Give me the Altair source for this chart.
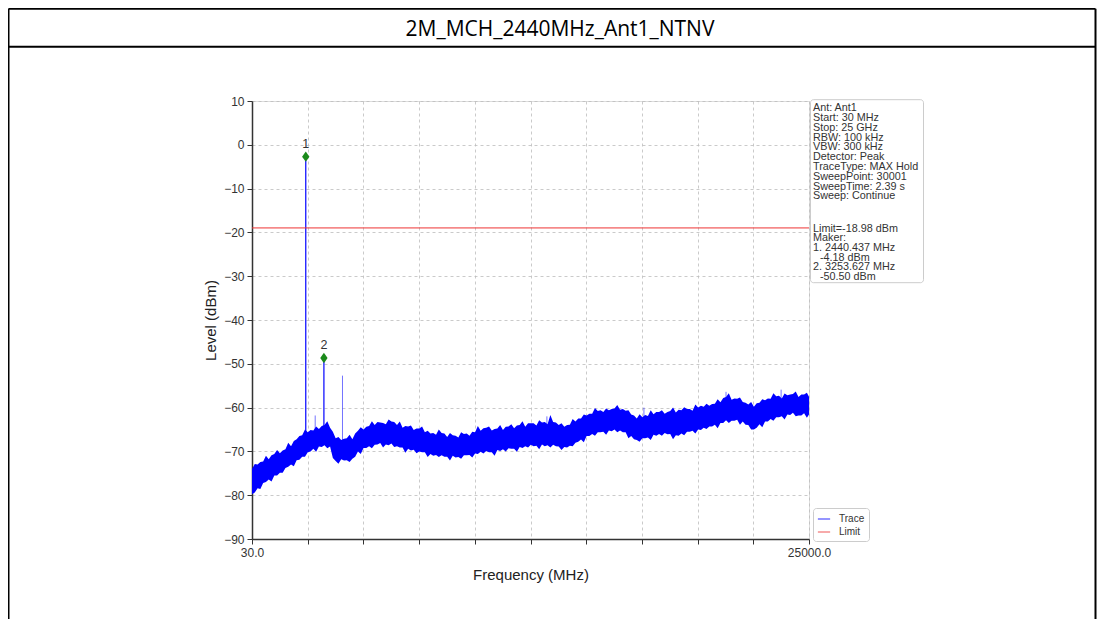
import altair as alt
import pandas as pd

# ---------------- data ----------------
freq_mhz = [30, 280, 530, 780, 1030, 1280, 1530, 1780, 2030, 2280,
            2530, 2780, 3030, 3280, 3530, 3780, 4030, 4280, 4530, 4780,
            5030, 5280, 5530, 5780, 6030, 6280, 6530, 6780, 7030, 7280,
            7530, 7780, 8030, 8280, 8530, 8780, 9030, 9280, 9530, 9780,
            10030, 10280, 10530, 10780, 11030, 11280, 11530, 11780, 12030, 12280,
            12530, 12780, 13030, 13280, 13530, 13780, 14030, 14280, 14530, 14780,
            15030, 15280, 15530, 15780, 16030, 16280, 16530, 16780, 17030, 17280,
            17530, 17780, 18030, 18280, 18530, 18780, 19030, 19280, 19530, 19780,
            20030, 20280, 20530, 20780, 21030, 21280, 21530, 21780, 22030, 22280,
            22530, 22780, 23030, 23280, 23530, 23780, 24030, 24280, 24530, 24780,
            25000]

trace_top_dbm = [-74.0, -73.0, -72.3, -71.8, -70.6, -70.4, -69.5, -68.8, -67.2, -66.3,
                 -65.6, -65.2, -64.9, -64.0, -64.6, -67.0, -67.4, -67.0, -67.2, -65.3,
                 -65.0, -64.2, -64.0, -63.4, -63.8, -63.2, -64.0, -64.6, -64.3, -65.1,
                 -64.8, -65.6, -65.9, -66.2, -65.8, -66.7, -66.3, -66.8, -66.0, -66.4,
                 -65.6, -65.3, -64.6, -65.2, -64.8, -65.1, -64.3, -64.7, -64.0, -64.4,
                 -63.6, -64.1, -63.4, -63.8, -63.3, -64.0, -64.4, -63.9, -63.2, -62.5,
                 -61.8, -61.4, -60.8, -61.0, -60.6, -60.2, -60.5, -60.7, -61.6, -62.5,
                 -62.2, -61.9, -61.5, -61.0, -61.4, -60.8, -61.1, -60.6, -60.3, -60.7,
                 -60.0, -59.8, -59.6, -59.1, -58.8, -57.6, -58.2, -58.0, -58.7, -59.3,
                 -59.8, -58.9, -58.3, -58.0, -57.4, -57.9, -57.2, -56.9, -57.6, -57.0,
                 -57.5]

trace_bottom_dbm = [-79.8, -78.4, -77.2, -76.4, -75.5, -74.9, -73.8, -73.0, -72.0, -71.2,
                    -70.2, -69.4, -68.9, -68.6, -68.9, -72.2, -71.8, -72.0, -71.7, -70.0,
                    -69.2, -68.8, -68.5, -68.1, -68.4, -68.2, -68.8, -69.1, -69.4, -69.6,
                    -70.0, -70.2, -70.6, -70.8, -70.9, -71.2, -71.0, -71.3, -70.9, -70.8,
                    -70.5, -70.1, -69.9, -70.2, -69.7, -69.5, -69.3, -69.4, -69.0, -68.8,
                    -68.5, -68.7, -68.4, -68.6, -68.5, -68.9, -69.0, -68.7, -68.0, -67.3,
                    -66.5, -66.0, -65.6, -65.5, -65.2, -65.0, -65.2, -65.6, -66.5, -67.4,
                    -67.0, -66.8, -66.2, -66.0, -65.8, -66.0, -66.3, -65.9, -65.5, -65.3,
                    -65.0, -64.6, -64.3, -63.9, -63.5, -62.9, -63.0, -62.8, -63.2, -64.0,
                    -65.0, -63.8, -63.2, -62.6, -62.2, -62.0, -61.6, -61.2, -61.8, -61.3,
                    -61.6]

# in-between sweep points (noise of the max-hold trace)
mid_freq_mhz = [155, 405, 655, 905, 1155, 1405, 1655, 1905, 2155, 2405,
                2655, 2905, 3155, 3405, 3655, 3905, 4155, 4405, 4655, 4905,
                5155, 5405, 5655, 5905, 6155, 6405, 6655, 6905, 7155, 7405,
                7655, 7905, 8155, 8405, 8655, 8905, 9155, 9405, 9655, 9905,
                10155, 10405, 10655, 10905, 11155, 11405, 11655, 11905, 12155, 12405,
                12655, 12905, 13155, 13405, 13655, 13905, 14155, 14405, 14655, 14905,
                15155, 15405, 15655, 15905, 16155, 16405, 16655, 16905, 17155, 17405,
                17655, 17905, 18155, 18405, 18655, 18905, 19155, 19405, 19655, 19905,
                20155, 20405, 20655, 20905, 21155, 21405, 21655, 21905, 22155, 22405,
                22655, 22905, 23155, 23405, 23655, 23905, 24155, 24405, 24655, 24905]

mid_top_dbm = [-72.9, -72.4, -71.0, -70.9, -69.7, -69.8, -68.0, -67.6, -66.5, -65.0,
               -65.1, -64.3, -64.2, -63.1, -65.5, -66.7, -67.1, -66.2, -65.9, -64.5,
               -64.4, -63.1, -63.3, -63.5, -62.7, -63.3, -63.2, -64.2, -64.1, -64.8,
               -64.3, -65.3, -65.8, -65.0, -65.9, -65.8, -66.4, -65.6, -65.9, -65.5,
               -64.2, -64.7, -64.3, -64.9, -64.0, -64.4, -63.8, -64.1, -63.1, -63.6,
               -63.6, -62.9, -63.3, -61.7, -63.4, -63.6, -64.0, -62.6, -62.5, -61.6,
               -61.4, -60.1, -60.6, -60.2, -60.3, -59.4, -60.3, -60.6, -61.8, -61.5,
               -61.7, -60.6, -61.0, -60.6, -61.0, -60.0, -60.5, -59.9, -60.3, -59.3,
               -59.6, -59.1, -59.2, -58.1, -57.8, -56.7, -57.9, -57.7, -58.9, -58.7,
               -59.0, -58.1, -57.9, -56.7, -57.3, -56.8, -57.0, -56.3, -57.0, -56.6]

mid_bottom_dbm = [-79.4, -78.6, -77.0, -76.9, -75.5, -74.9, -73.5, -73.4, -71.9, -71.2,
                  -70.0, -70.1, -69.0, -69.3, -71.5, -72.8, -72.1, -72.4, -71.2, -70.6,
                  -69.2, -69.3, -68.4, -69.1, -68.6, -69.0, -69.1, -70.3, -69.8, -70.4,
                  -70.2, -71.3, -71.0, -71.3, -71.2, -72.1, -71.4, -71.7, -70.9, -71.4,
                  -70.6, -70.5, -70.2, -71.0, -69.9, -70.0, -69.4, -70.1, -69.2, -69.1,
                  -68.8, -69.5, -68.8, -69.1, -68.8, -69.7, -69.1, -68.8, -67.8, -67.9,
                  -66.5, -66.4, -65.6, -66.2, -65.4, -65.6, -65.6, -67.0, -67.2, -67.8,
                  -67.0, -67.4, -66.4, -66.4, -66.1, -67.2, -66.4, -66.3, -65.5, -65.9,
                  -65.1, -64.9, -64.3, -64.7, -63.5, -63.5, -63.0, -63.9, -63.9, -65.0,
                  -64.6, -64.5, -63.2, -63.0, -62.2, -62.7, -61.7, -62.0, -61.8, -62.3]

main_spike_freq = [2440.437, 3253.627]
main_spike_top = [-2.7, -48.7]
main_spike_base = [-68.0, -66.5]

minor_spike_freq = [4087.0, 2863.0, 13250.0, 17600.0, 21280.0, 23750.0]
minor_spike_top = [-52.7, -61.8, -62.0, -60.0, -56.4, -55.9]
minor_spike_base = [-71.0, -66.5, -65.0, -63.5, -60.0, -59.5]

marker_freq = [2440.437, 3253.627]
marker_level = [-2.7, -48.7]
marker_label = ["1", "2"]

limit_dbm = -18.98

x_tick_values = [30, 2527, 5024, 7521, 10018, 12515, 15012, 17509, 20006, 22503, 25000]
y_tick_values = [-90, -80, -70, -60, -50, -40, -30, -20, -10, 0, 10]

title_text = "2M_MCH_2440MHz_Ant1_NTNV"
info_lines_a = ["Ant: Ant1", "Start: 30 MHz", "Stop: 25 GHz", "RBW: 100 kHz",
                "VBW: 300 kHz", "Detector: Peak", "TraceType: MAX Hold",
                "SweepPoint: 30001", "SweepTime: 2.39 s", "Sweep: Continue"]
info_lines_b = ["Limit=-18.98 dBm", "Maker:", "1. 2440.437 MHz"]
info_lines_c = ["2. 3253.627 MHz"]
info_lines_indented = ["-4.18 dBm", "-50.50 dBm"]

# ---------------- tables ----------------
band = pd.concat([
    pd.DataFrame({"f": freq_mhz, "level": trace_top_dbm, "low": trace_bottom_dbm}),
    pd.DataFrame({"f": mid_freq_mhz, "level": mid_top_dbm, "low": mid_bottom_dbm}),
]).sort_values("f").reset_index(drop=True)
main_spikes = pd.DataFrame({"f": main_spike_freq, "level": main_spike_top,
                            "low": main_spike_base, "series": "Trace"})
minor_spikes = pd.DataFrame({"f": minor_spike_freq, "level": minor_spike_top,
                             "low": minor_spike_base, "series": "Trace"})
markers = pd.DataFrame({"f": marker_freq, "level": marker_level, "label": marker_label})
limit = pd.DataFrame({"f": [freq_mhz[0]], "f_end": [freq_mhz[-1]],
                      "level": [limit_dbm], "series": ["Limit"]})
dummy = pd.DataFrame({"k": [0]})

FONT = "Liberation Sans"
xscale = alt.Scale(domain=[30, 25000], nice=False, zero=False)
yscale = alt.Scale(domain=[-90, 10], nice=False, zero=False)

xaxis = alt.Axis(values=x_tick_values,
                 labelExpr="(datum.value == 30 || datum.value == 25000) ? format(datum.value, '.1f') : ''",
                 grid=True, gridDash=[3, 3], gridColor="#bdbdbd", gridWidth=0.8,
                 tickSize=5, tickColor="#333333", domainColor="#333333", domainWidth=1.5,
                 labelFontSize=12, labelColor="#333333", labelPadding=3, labelOverlap=False,
                 labelFlush=False, titleFontSize=15, titleFontWeight="normal",
                 titleColor="#222222", titlePadding=9)
yaxis = alt.Axis(values=y_tick_values, format="d",
                 grid=True, gridDash=[3, 3], gridColor="#bdbdbd", gridWidth=0.8,
                 tickSize=5, tickColor="#333333", domainColor="#333333", domainWidth=1.5,
                 labelFontSize=12, labelColor="#333333", labelPadding=3, labelOverlap=False,
                 titleFontSize=15, titleFontWeight="normal", titleColor="#222222",
                 titlePadding=5)


def X(field="f"):
    return alt.X(field, type="quantitative", scale=xscale, axis=xaxis, title="Frequency (MHz)")


def Y(field="level"):
    return alt.Y(field, type="quantitative", scale=yscale, axis=yaxis, title="Level (dBm)")


color_enc = alt.Color("series:N",
                      scale=alt.Scale(domain=["Trace", "Limit"], range=["#0000ff", "#ee3333"]),
                      legend=alt.Legend(title=None, orient="none", legendX=561, legendY=407,
                                        symbolType="stroke", symbolSize=150, symbolStrokeWidth=1.5,
                                        labelFontSize=10, labelColor="#333333", labelFont=FONT,
                                        fillColor="white", strokeColor="#cccccc", padding=4,
                                        cornerRadius=3, rowPadding=1, labelOffset=8))

band_layer = alt.Chart(band).mark_area(color="#0000ff", opacity=1).encode(
    x=X(), y=Y(), y2="low:Q")

main_spike_layer = alt.Chart(main_spikes).mark_rule(strokeWidth=1.2).encode(
    x=X(), y=Y(), y2="low:Q", color=color_enc)

minor_spike_layer = alt.Chart(minor_spikes).mark_rule(strokeWidth=1, opacity=0.55).encode(
    x=X(), y=Y(), y2="low:Q", color=color_enc)

limit_layer = alt.Chart(limit).mark_rule(strokeWidth=1).encode(
    x=X(), x2="f_end:Q", y=Y(), color=color_enc)

marker_layer = alt.Chart(markers).mark_point(
    shape="M0,-1L0.7,0L0,1L-0.7,0Z", size=110, filled=True, color="#1a8a1a", opacity=1
).encode(x=X(), y=Y())

marker_text = alt.Chart(markers).mark_text(
    dy=-13, fontSize=12.5, color="#333333", font=FONT
).encode(x=X(), y=Y(), text="label:N")

# ---------------- decoration (table frame, title, info box) ----------------
frame_h = alt.Chart(dummy).mark_rule(color="black", strokeWidth=2).encode(
    x=alt.value(-243.5), x2=alt.value(843.5), y=alt.value(-92.3))
frame_h2 = alt.Chart(dummy).mark_rule(color="black", strokeWidth=2).encode(
    x=alt.value(-243.5), x2=alt.value(843.5), y=alt.value(-54.3))
frame_l = alt.Chart(dummy).mark_rule(color="black", strokeWidth=2).encode(
    x=alt.value(-243.5), y=alt.value(-92.3), y2=alt.value(525))
frame_r = alt.Chart(dummy).mark_rule(color="black", strokeWidth=2).encode(
    x=alt.value(843.5), y=alt.value(-92.3), y2=alt.value(525))

title_layer = alt.Chart(dummy).mark_text(
    font="Open Sans", fontSize=21, color="black", align="center", baseline="middle"
).encode(x=alt.value(308), y=alt.value(-71.5), text=alt.value(title_text))

info_box = alt.Chart(dummy).mark_rect(
    fill="white", stroke="#cccccc", strokeWidth=1, cornerRadius=3
).encode(x=alt.value(558.5), x2=alt.value(671.5), y=alt.value(-1.3), y2=alt.value(181.7))

info_style = dict(align="left", baseline="alphabetic", fontSize=10.8, font=FONT, color="#333333")

info_a = alt.Chart(dummy).mark_text(lineHeight=9.8, **info_style).encode(
    x=alt.value(561), y=alt.value(10.2), text=alt.value(info_lines_a))

info_b = alt.Chart(dummy).mark_text(lineHeight=9.6, **info_style).encode(
    x=alt.value(561), y=alt.value(130.8), text=alt.value(info_lines_b))

info_c = alt.Chart(dummy).mark_text(lineHeight=9.6, **info_style).encode(
    x=alt.value(561), y=alt.value(169.2), text=alt.value(info_lines_c))

info_ind = alt.Chart(dummy).mark_text(lineHeight=19.2, **info_style).encode(
    x=alt.value(568), y=alt.value(159.6), text=alt.value(info_lines_indented))

chart = alt.layer(
    band_layer, main_spike_layer, minor_spike_layer, limit_layer, marker_layer, marker_text,
    frame_h, frame_h2, frame_l, frame_r, title_layer, info_box, info_a, info_b, info_c, info_ind
).properties(
    width=557, height=438,
    padding={"left": 244, "top": 93, "right": 288, "bottom": 80},
    autosize=alt.AutoSizeParams(type="none"),
    background="white",
).configure_view(
    stroke="#333333", strokeWidth=1
).configure(
    font=FONT
)

chart.save("out.html", embed_options={"renderer": "svg", "actions": False})
